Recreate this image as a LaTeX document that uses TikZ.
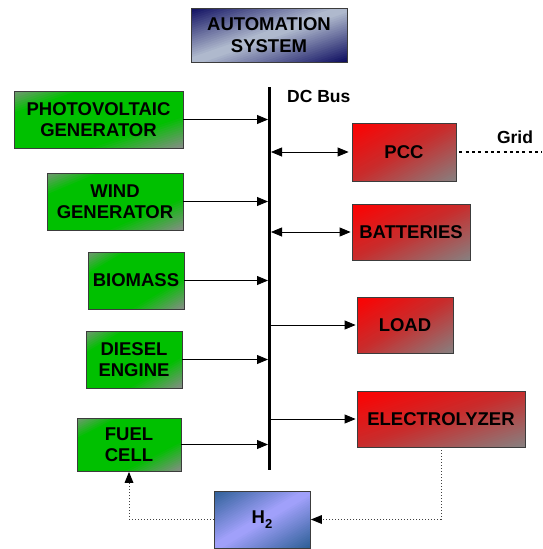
\documentclass[tikz,border=0pt]{standalone}
\usepackage{fontspec}
\setmainfont{Liberation Sans}
\usetikzlibrary{arrows.meta}
\definecolor{gtl}{RGB}{120,150,120}
\definecolor{greenc}{RGB}{0,192,0}
\definecolor{gbr}{RGB}{135,140,135}
\definecolor{redc}{RGB}{255,0,0}
\definecolor{redmid}{RGB}{200,45,45}
\definecolor{redgray}{RGB}{135,128,128}
\definecolor{navyc}{RGB}{12,12,95}
\definecolor{navylight}{RGB}{175,185,205}
\definecolor{bluedark}{RGB}{45,95,150}
\definecolor{bluelight}{RGB}{160,160,250}
\definecolor{edgec}{RGB}{60,60,60}
% diagonal gradient (top-left -> bottom-right) in a rectangle
% #1 cx #2 cy #3 w #4 h #5 colour at start #6 plateau colour #7 colour at end #8 plateau start #9 plateau end
\newcommand\gradrect[9]{%
  \begin{scope}[shift={({#1-#3/2},{#2-#4/2})}, x=#3pt, y=-#4pt]
    \clip (0,0) rectangle (1,1);
    \foreach \i in {0,...,47} {
      \pgfmathsetmacro\ca{\i/24}
      \pgfmathsetmacro\cb{(\i+1)/24+0.015}
      \pgfmathsetmacro\tt{(\i+0.5)/48}
      \ifdim\tt pt<#8pt
        \pgfmathsetmacro\pp{100*(1-\tt/#8)}
        \colorlet{gc}{#5!\pp!#6}
      \else\ifdim\tt pt>#9pt
        \pgfmathsetmacro\pp{100*(\tt-#9)/(1-#9)}
        \colorlet{gc}{#7!\pp!#6}
      \else
        \colorlet{gc}{#6}
      \fi\fi
      \fill[gc] (\ca,0) -- (\cb,0) -- (\cb-1,1) -- (\ca-1,1) -- cycle;
    }
  \end{scope}}
\tikzset{
  box/.style={draw=edgec, line width=0.8pt, inner sep=0pt, align=center,
    font=\fontsize{18.5}{21.5}\selectfont\bfseries},
  tip/.tip={Triangle[length=11pt,width=9pt]},
  arr/.style={line width=0.8pt, -tip},
  darr/.style={line width=0.8pt, tip-tip},
  dots/.style={line width=0.9pt, draw=black!75, dash pattern=on 1pt off 2pt},
  lbl/.style={font=\fontsize{17.5}{17.5}\selectfont\bfseries, inner sep=0pt},
}
\begin{document}
\begin{tikzpicture}[x=1pt,y=-1pt]
\useasboundingbox (0,0) rectangle (542,549);
% gradients
\gradrect{269}{35}{156}{54}{navyc}{navylight}{navyc}{0.47}{0.53}
\gradrect{98.5}{119.5}{169}{57}{gtl}{greenc}{gbr}{0.2}{0.72}
\gradrect{115}{201.5}{136}{57}{gtl}{greenc}{gbr}{0.2}{0.72}
\gradrect{136}{280.5}{96}{57}{gtl}{greenc}{gbr}{0.2}{0.72}
\gradrect{134}{359.5}{96}{57}{gtl}{greenc}{gbr}{0.2}{0.72}
\gradrect{129}{444.5}{104}{53}{gtl}{greenc}{gbr}{0.2}{0.72}
\gradrect{404}{152}{104}{58}{redc}{redmid}{redgray}{0.5}{0.5}
\gradrect{411}{232}{118}{56}{redc}{redmid}{redgray}{0.5}{0.5}
\gradrect{405}{325}{96}{56}{redc}{redmid}{redgray}{0.5}{0.5}
\gradrect{441}{419}{168}{56}{redc}{redmid}{redgray}{0.5}{0.5}
\gradrect{262}{519.5}{96}{57}{bluedark}{bluelight}{bluedark}{0.47}{0.53}
% boxes
\node[box, minimum width=156pt, minimum height=54pt] (auto) at (269,35) {AUTOMATION\\SYSTEM};
\node[box, minimum width=169pt, minimum height=57pt] (pv) at (98.5,119.5) {PHOTOVOLTAIC\\GENERATOR};
\node[box, minimum width=136pt, minimum height=57pt] (wind) at (115,201.5) {WIND\\GENERATOR};
\node[box, minimum width=96pt, minimum height=57pt] (bio) at (136,280.5) {BIOMASS};
\node[box, minimum width=96pt, minimum height=57pt] (diesel) at (134,359.5) {DIESEL\\ENGINE};
\node[box, minimum width=104pt, minimum height=53pt] (fuel) at (129,444.5) {FUEL\\CELL};
\node[box, minimum width=104pt, minimum height=58pt] (pcc) at (404,152) {PCC};
\node[box, minimum width=118pt, minimum height=56pt] (bat) at (411,232) {BATTERIES};
\node[box, minimum width=96pt, minimum height=56pt] (load) at (405,325) {LOAD};
\node[box, minimum width=168pt, minimum height=56pt] (elec) at (441,419) {ELECTROLYZER};
\node[box, minimum width=96pt, minimum height=57pt] (h2) at (262,519.5) {H\raisebox{-0.3em}{\fontsize{13}{13}\selectfont 2}};
% bus
\coordinate (bustop) at (269.5,87);
\coordinate (busbot) at (269.5,470);
\draw[line width=3pt] (bustop) -- (busbot);
\node[lbl, anchor=base west] (dcbus) at (287,102) {DC Bus};
% sources
\foreach \n in {pv,wind,bio,diesel,fuel}
  \draw[arr, shorten >=1.5pt] (\n.east) -- (\n.east -| bustop);
% loads
\draw[darr, shorten <=1.5pt, shorten >=3pt] (pcc.west -| bustop) -- (pcc.west);
\draw[darr, shorten <=1.5pt, shorten >=1pt] (bat.west -| bustop) -- (bat.west);
\draw[arr, shorten >=1pt] (load.west -| bustop) -- (load.west);
\draw[arr, shorten >=1pt] (elec.west -| bustop) -- (elec.west);
% grid
\coordinate (gridend) at (542,152);
\draw[line width=2.5pt, dash pattern=on 3pt off 3.3pt] ([xshift=3pt]pcc.east) -- (gridend);
\node[lbl] (grid) at (515,137) {Grid};
% hydrogen loop
\coordinate (ez) at (441,0);
\coordinate (fz) at (129,0);
\draw[dots] (elec.south -| ez) |- ([xshift=11pt]h2.east);
\fill ([xshift=0.5pt]h2.east) -- ++(11,-4.5) -- ++(0,9) -- cycle;
\draw[dots] (h2.west) -| ([yshift=-11pt]fuel.south -| fz);
\fill ([yshift=-0.5pt]fuel.south -| fz) -- ++(-4.5,11) -- ++(9,0) -- cycle;
\end{tikzpicture}
\end{document}
